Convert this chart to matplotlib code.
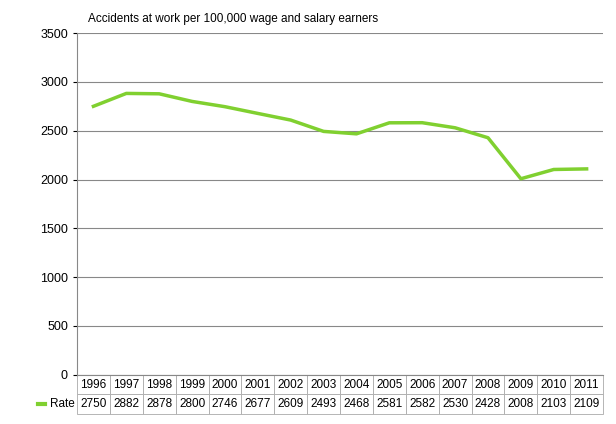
import matplotlib.pyplot as plt
from matplotlib.lines import Line2D

plt.rcParams['font.family'] = ['Liberation Sans', 'DejaVu Sans']

years = ['1996', '1997', '1998', '1999', '2000', '2001', '2002', '2003',
         '2004', '2005', '2006', '2007', '2008', '2009', '2010', '2011']
rate = [2750, 2882, 2878, 2800, 2746, 2677, 2609, 2493, 2468, 2581, 2582,
        2530, 2428, 2008, 2103, 2109]

fig = plt.figure(figsize=(6.16, 4.24), dpi=100)
ax = fig.add_axes([0.125, 0.116, 0.854, 0.806])

x = range(len(years))
ax.plot(x, rate, color='#80d030', linewidth=2.5)
ax.set_xlim(-0.5, len(years) - 0.5)
ax.set_ylim(0, 3500)
ax.set_yticks(range(0, 3501, 500))
ax.tick_params(axis='y', labelsize=9, length=3)
ax.set_xticks([])
ax.grid(axis='y', color='#888888', linewidth=0.8)
ax.set_axisbelow(True)
for s in ['top', 'right']:
    ax.spines[s].set_visible(False)
ax.spines['left'].set_color('#888888')
ax.spines['bottom'].set_color('#888888')

# data table below the axis
tb = ax.table(cellText=[years, [str(v) for v in rate]], cellLoc='center',
              bbox=[0, -0.115, 1, 0.115])
tb.auto_set_font_size(False)
tb.set_fontsize(8.5)
for (r, c), cell in tb.get_celld().items():
    cell.set_edgecolor('#aaaaaa')
    cell.set_linewidth(0.6)
    cell.PAD = 0.02

ax.text(-0.005, -0.086, 'Rate', transform=ax.transAxes, ha='right', va='center', fontsize=8.5)
ax.add_line(Line2D([-0.075, -0.06], [-0.086, -0.086], transform=ax.transAxes,
                   color='#80d030', linewidth=3, clip_on=False))

fig.text(0.143, 0.955, 'Accidents at work per 100,000 wage and salary earners',
         fontsize=8.5, ha='left', va='center')

fig.savefig('out.png', dpi=100)
